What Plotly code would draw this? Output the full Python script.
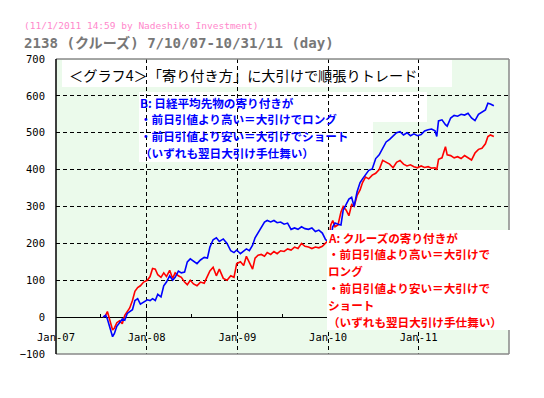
import plotly.graph_objects as go

# ---------------- data ----------------
DATES = [
    "2007-07-10", "2007-07-20", "2007-07-27", "2007-08-03", "2007-08-10", "2007-08-17", "2007-08-24",
    "2007-09-03", "2007-09-14", "2007-09-25", "2007-10-05", "2007-10-15", "2007-10-25", "2007-11-05",
    "2007-11-15", "2007-11-26", "2007-12-07", "2007-12-20", "2008-01-04", "2008-01-15", "2008-01-25",
    "2008-02-05", "2008-02-15", "2008-02-28", "2008-03-10", "2008-03-21", "2008-04-03", "2008-04-15",
    "2008-04-25", "2008-05-08", "2008-05-20", "2008-06-02", "2008-06-13", "2008-06-25", "2008-07-08",
    "2008-07-22", "2008-08-05", "2008-08-20", "2008-09-02", "2008-09-12", "2008-09-25", "2008-10-08",
    "2008-10-20", "2008-11-05", "2008-11-20", "2008-12-05", "2008-12-18", "2008-12-29", "2009-01-13",
    "2009-01-26", "2009-02-06", "2009-02-18", "2009-03-03", "2009-03-13", "2009-03-25", "2009-04-07",
    "2009-04-20", "2009-05-01", "2009-05-15", "2009-05-28", "2009-06-10", "2009-06-24", "2009-07-08",
    "2009-07-22", "2009-08-05", "2009-08-19", "2009-09-02", "2009-09-16", "2009-09-30", "2009-10-14",
    "2009-10-28", "2009-11-11", "2009-11-25", "2009-12-09", "2009-12-22", "2010-01-05", "2010-01-12",
    "2010-01-20", "2010-01-29", "2010-02-10", "2010-02-22", "2010-03-03", "2010-03-15", "2010-03-26",
    "2010-04-06", "2010-04-16", "2010-04-28", "2010-05-10", "2010-05-20", "2010-06-01", "2010-06-14",
    "2010-06-28", "2010-07-12", "2010-07-26", "2010-08-09", "2010-08-23", "2010-09-06", "2010-09-20",
    "2010-10-04", "2010-10-18", "2010-11-01", "2010-11-15", "2010-11-29", "2010-12-13", "2010-12-27",
    "2011-01-11", "2011-01-25", "2011-02-08", "2011-02-22", "2011-03-08", "2011-03-15", "2011-03-22",
    "2011-04-05", "2011-04-19", "2011-04-26", "2011-05-10", "2011-05-24", "2011-06-07", "2011-06-21",
    "2011-07-05", "2011-07-19", "2011-08-02", "2011-08-16", "2011-08-30", "2011-09-13", "2011-09-27",
    "2011-10-07", "2011-10-17", "2011-10-31",
]

# A: クルーズ (red)
SERIES_A = [
    0, 5, 15, 0, -20, -35, -30,
    -15, -10, -18, 5, 15, 25, 45,
    70, 80, 85, 95, 100, 110, 132,
    130, 115, 108, 120, 110, 127, 105,
    120, 112, 108, 95, 88, 100, 90,
    85, 95, 92, 110, 125, 135, 112,
    130, 105, 100, 112, 108, 145, 150,
    140, 165, 150, 130, 160, 168, 170,
    165, 175, 170, 178, 172, 180, 178,
    185, 182, 190, 186, 200, 192, 190,
    186, 190, 188, 192, 200, 210, 250,
    262, 245, 250, 285, 300, 290, 275,
    305, 300, 330, 345, 365, 380, 375,
    385, 390, 400, 425, 420, 415, 405,
    420, 425, 415, 410, 413, 408, 405,
    410, 406, 408, 404, 405, 400, 428,
    432, 462, 440, 438, 432, 435, 430,
    438, 432, 426, 445, 455, 458, 470,
    490, 494, 490,
]

# B: 日経平均先物 (blue)
SERIES_B = [
    0, 5, -5, -20, -40, -53, -45,
    -25, -15, -5, -8, 10, 15, 20,
    45, 50, 35, 40, 47, 45, 50,
    45, 62, 55, 85, 95, 112, 100,
    108, 125, 120, 122, 150, 158, 152,
    145, 155, 162, 160, 190, 210, 215,
    205, 212, 200, 180, 175, 182, 172,
    178, 185, 180, 195, 215, 228, 245,
    258, 262, 258, 262, 256, 258, 252,
    255, 238, 242, 238, 245, 240, 238,
    242, 232, 236, 228, 210, 205, 215,
    245, 255, 252, 250, 290, 305, 320,
    325, 300, 340, 365, 375, 385, 398,
    402, 430, 440, 458, 475, 482, 490,
    500, 503, 494, 500, 492, 497, 492,
    495, 505, 508, 510, 505, 490, 532,
    535, 522, 518, 540, 547, 545, 550,
    548, 553, 540, 533, 550, 557, 562,
    580, 578, 573,
]

Y_RANGE = [-100, 700]
X_RANGE = ["2007-01-01", "2011-12-31"]

HEADER_1 = "(11/1/2011 14:59 by Nadeshiko Investment)"
HEADER_2 = "2138 (クルーズ) 7/10/07-10/31/11 (day)"
TITLE_IN = "＜グラフ4＞「寄り付き方」に大引けで順張りトレード"
LINES_B = [
    "B: 日経平均先物の寄り付きが",
    "・前日引値より高い＝大引けでロング",
    "・前日引値より安い＝大引けでショート",
    "（いずれも翌日大引け手仕舞い）",
]
LINES_A = [
    "A: クルーズの寄り付きが",
    "・前日引値より高い＝大引けで",
    "ロング",
    "・前日引値より安い＝大引けで",
    "ショート",
    "（いずれも翌日大引け手仕舞い）",
]

# ---------------- layout geometry (pixels of the 544x398 window) ----------------
OFF = 8                      # page body margin of the browser
W, H = 544 - OFF, 398 - OFF
PX0, PX1, PY0, PY1 = 56, 509, 59, 354  # plot area in window pixels


def px(x):
    return (x - PX0) / (PX1 - PX0)


def py(y):
    return (PY1 - y) / (PY1 - PY0)


JP = "Noto Sans CJK JP"
MONO = "DejaVu Sans Mono"
TXT_SIZE = 11.6
LINE_STEP = 16.8

fig = go.Figure()
fig.add_trace(go.Scatter(x=DATES, y=SERIES_A, mode="lines", name="A",
                         line=dict(color="#ff0000", width=1.6)))
fig.add_trace(go.Scatter(x=DATES, y=SERIES_B, mode="lines", name="B",
                         line=dict(color="#0000ff", width=1.6)))

fig.update_layout(
    width=W, height=H,
    margin=dict(l=PX0 - OFF, r=544 - PX1, t=PY0 - OFF, b=398 - PY1, pad=0),
    paper_bgcolor="white",
    plot_bgcolor="#ebfaeb",
    showlegend=False,
    xaxis=dict(
        type="date", range=X_RANGE, dtick="M12", tick0="2007-01-01",
        tickformat="%b-%y", anchor="free", position=py(317),
        showgrid=True, gridcolor="black", gridwidth=1, griddash="4px,3px",
        showline=False, zeroline=False,
        ticks="inside", ticklen=3, tickcolor="black",
        minor=dict(dtick="M6", ticks="inside", ticklen=3, tickcolor="black", showgrid=False),
        tickfont=dict(family=MONO, size=10.5, color="black"),
        ticklabelstandoff=12,
    ),
    yaxis=dict(
        range=Y_RANGE, dtick=100, tick0=0,
        showgrid=True, gridcolor="black", gridwidth=1, griddash="4px,3px",
        zeroline=True, zerolinecolor="black", zerolinewidth=1,
        showline=False, ticks="",
        tickfont=dict(family=MONO, size=10.5, color="black"),
        ticklabelstandoff=10,
    ),
)

# plot frame
for (x0, x1, y0, y1, col) in [(0, 1, 1, 1, "#888888"), (1, 1, 0, 1, "#888888"),
                              (0, 1, 0, 0, "#888888"), (0, 0, 0, 1, "black")]:
    fig.add_shape(type="line", xref="paper", yref="paper", x0=x0, x1=x1, y0=y0, y1=y1,
                  line=dict(color=col, width=1.5), layer="above")

# white backgrounds behind the texts
for (x0, x1, y0, y1, lay) in [(62, 452, 60, 87, "between"), (139, 373, 92, 162, "between"),
                              (373, 427, 92, 122, "between"), (327, 521, 230, 330, "above")]:
    fig.add_shape(type="rect", xref="paper", yref="paper", x0=px(x0), x1=px(x1),
                  y0=py(y1), y1=py(y0), fillcolor="white", line=dict(width=0), layer=lay)

# header texts
fig.add_annotation(text=HEADER_1, xref="paper", yref="paper", x=px(22), y=py(26),
                   xanchor="left", yanchor="middle", showarrow=False,
                   font=dict(family=MONO + ", " + JP, size=9.5, color="#ff88cc"))
fig.add_annotation(text=HEADER_2, xref="paper", yref="paper", x=px(22), y=py(42.5),
                   xanchor="left", yanchor="middle", showarrow=False,
                   font=dict(family=MONO + ", " + JP, size=14.1, color="#777777", weight="bold"))

# in-plot title
fig.add_annotation(text=TITLE_IN, xref="paper", yref="paper", x=px(67), y=py(75),
                   xanchor="left", yanchor="middle", showarrow=False,
                   font=dict(family=JP, size=14.2, color="black"))

# B description, one text per line
for i, line in enumerate(LINES_B):
    fig.add_annotation(text=line, xref="paper", yref="paper",
                       x=px(139), y=py(102.5 + i * LINE_STEP), xanchor="left", yanchor="middle",
                       showarrow=False, borderpad=0,
                       font=dict(family=JP, size=TXT_SIZE, color="#0000ff", weight="bold"))

# A description, one text per line
for i, line in enumerate(LINES_A):
    fig.add_annotation(text=line, xref="paper", yref="paper",
                       x=px(327), y=py(237.5 + i * LINE_STEP), xanchor="left", yanchor="middle",
                       showarrow=False, borderpad=0,
                       font=dict(family=JP, size=TXT_SIZE, color="#ff0000", weight="bold"))

fig.write_html("out.html")
